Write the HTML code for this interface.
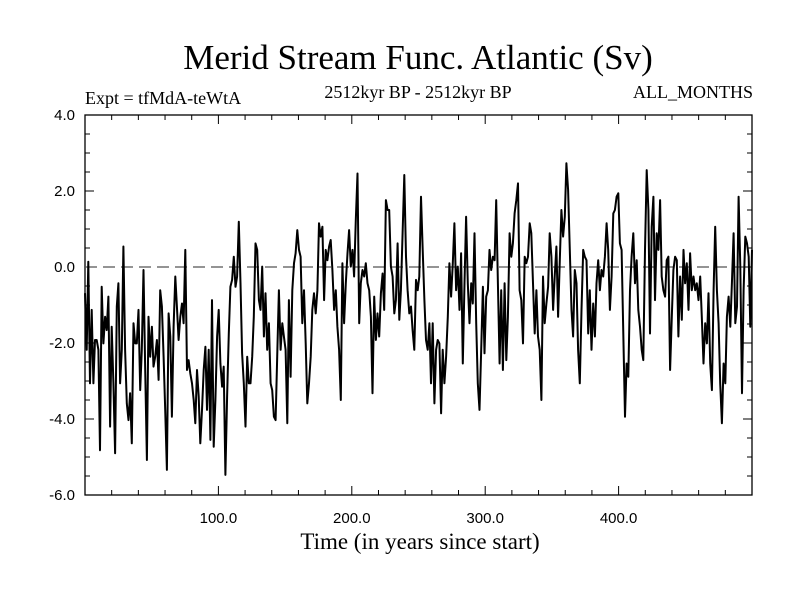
<!DOCTYPE html>
<html><head><meta charset="utf-8"><style>
body{margin:0;background:#fff;}
svg{display:block;}
.serif{font-family:"Liberation Serif",serif;}
.sans{font-family:"Liberation Sans",sans-serif;}
</style></head>
<body>
<svg id="chart" width="800" height="600" viewBox="0 0 800 600">
<rect width="800" height="600" fill="#fff"/>
<text class="serif" x="418" y="69" font-size="35" text-anchor="middle">Merid Stream Func. Atlantic (Sv)</text>
<text class="serif" x="85" y="104" font-size="18">Expt = tfMdA-teWtA</text>
<text class="serif" x="418" y="98" font-size="18" text-anchor="middle">2512kyr BP - 2512kyr BP</text>
<text class="serif" x="753" y="98" font-size="18" text-anchor="end">ALL_MONTHS</text>
<text class="serif" x="420" y="549" font-size="23" text-anchor="middle">Time (in years since start)</text>
<g id="axes"></g>
<g id="plot"></g>
</svg>
<script>
const xTicks=[100,200,300,400];
const xTickLabels=["100.0","200.0","300.0","400.0"];
const yTicks=[4,2,0,-2,-4,-6];
const yTickLabels=["4.0","2.0","0.0","-2.0","-4.0","-6.0"];
const seriesValues=[
-0.69,-2.18,0.14,-3.06,-1.13,-3.06,-1.92,-1.92,-2.18,-4.82,-0.52,-2.01,-1.31,-1.66,-0.78,-4.2,-1.57,-3.06,-4.9,-1.04,-0.43,-3.06,-2.18,0.54,-2.18,-3.59,-4.03,-3.32,-4.64,-1.48,-2.01,-2.01,-1.13,-3.24,-2.18,-0.08,-2.71,-5.08,-1.31,-2.36,-1.57,-2.62,-2.36,-1.92,-2.97,-0.61,-1.04,-2.36,-3.76,-5.34,-1.22,-1.83,-3.94,-1.57,-0.25,-1.04,-1.92,-1.31,-0.96,-1.48,0.45,-2.71,-2.45,-2.8,-3.06,-3.5,-4.11,-2.71,-3.41,-4.64,-3.76,-2.71,-2.1,-3.76,-2.18,-4.55,-0.87,-4.73,-3.5,-1.83,-1.13,-2.54,-3.15,-2.62,-5.47,-3.41,-1.75,-0.52,-0.34,0.27,-0.52,-0.25,1.19,-0.43,-2.27,-3.06,-4.2,-2.36,-3.06,
-3.06,-2.36,-1.31,0.62,0.45,-0.87,-1.13,0.01,-1.83,-0.69,-2.18,-1.48,-3.06,-3.24,-3.94,-4.03,-2.36,-0.61,-2.18,-1.48,-1.83,-2.18,-4.11,-0.87,-2.89,-0.61,0.1,0.36,0.97,0.45,0.27,-1.48,-0.61,-2.01,-3.59,-3.06,-2.36,-1.13,-0.69,-1.22,-0.61,1.15,0.8,1.06,-0.87,0.45,0.18,0.54,0.71,-0.08,-1.13,-0.61,-1.57,-2.18,-3.5,0.1,-1.48,-0.43,0.36,0.97,0.01,0.45,-0.25,1.24,2.46,-1.48,-0.43,-0.08,-0.25,0.1,-0.43,-0.61,-1.31,-3.32,-0.78,-1.92,-1.22,-1.83,-0.69,-0.17,-1.13,1.76,1.5,1.5,0.01,-0.25,-1.22,-0.87,0.62,-1.39,-0.61,0.89,2.42,0.27,-0.61,-1.22,-1.04,-1.66,-2.18,-0.34,-0.61,-0.25,1.85,0.45,
-0.87,-1.92,-2.18,-1.48,-3.06,-1.48,-3.59,-2.18,-1.92,-2.01,-3.85,-2.18,-3.06,-2.36,-1.31,0.1,-0.78,0.1,1.15,-0.61,0.01,-1.13,0.36,-2.54,-0.43,1.32,-0.43,-1.48,-0.43,-0.96,0.89,-1.48,-3.06,-3.76,-2.18,-0.52,-2.27,-0.78,-0.61,0.45,-0.08,0.27,0.18,1.76,-0.43,-2.54,-0.61,-2.71,-0.43,-2.45,-1.31,0.89,0.27,0.62,1.41,1.76,2.2,-0.61,-0.87,-2.01,0.27,0.1,0.27,1.15,0.89,-0.43,-1.75,-0.61,-1.83,-2.18,-3.5,-0.25,-1.48,-0.96,-0.52,0.89,0.27,-1.13,-0.25,0.54,-1.31,0.18,1.5,0.8,1.32,2.73,2.03,0.45,-1.13,-1.83,-0.08,-0.43,-2.18,-3.06,-1.13,0.45,0.27,0.18,-1.75,-0.61,-2.18,-0.96,
-1.83,-0.43,0.18,-0.61,-0.08,-0.25,0.27,1.15,0.45,-1.13,-0.25,1.41,1.5,1.85,1.94,0.62,0.45,-1.75,-3.94,-2.54,-2.89,-0.61,0.27,0.89,-0.43,0.18,-1.13,-1.57,-2.18,-2.45,0.45,2.55,1.5,-1.75,1.06,1.85,-0.87,0.89,0.45,1.76,-0.25,-0.61,-0.78,0.18,0.27,-2.71,-1.31,-0.08,0.27,0.18,-1.83,-0.25,-1.39,0.45,-0.43,0.1,-1.13,0.36,-0.61,-0.25,-0.61,-0.43,-0.87,-0.25,-1.31,-2.54,-1.48,-2.01,-0.69,-2.54,-3.24,-0.61,1.06,-0.61,-1.48,-3.06,-4.11,-2.54,-3.06,-1.31,-0.78,-1.57,-0.43,0.89,-1.48,-1.04,1.85,0.01,-3.32,-0.61,0.8,0.62,0.27,-1.57,0.45
];
const xMin=0,xMax=500,yMin=-6,yMax=4;
const L=85,R=752,T=115,B=495;
const NS="http://www.w3.org/2000/svg";
function sx(v){return L+(v-xMin)/(xMax-xMin)*(R-L);}
function sy(v){return B-(v-yMin)/(yMax-yMin)*(B-T);}
const axes=document.getElementById('axes');
const plot=document.getElementById('plot');
function mk(tag,attrs,parent){const e=document.createElementNS(NS,tag);for(const k in attrs)e.setAttribute(k,attrs[k]);parent.appendChild(e);return e;}
// zero line
const zl=mk('line',{x1:L,x2:R,y1:sy(0),y2:sy(0),stroke:'#555','stroke-width':1.3,'stroke-dasharray':'12,6'},plot);


// series
const n=seriesValues.length;
let d='';
seriesValues.forEach((v,i)=>{const yr=xMin+i*(xMax-xMin)/(n-1);d+=(i?'L':'M')+sx(yr).toFixed(1)+','+sy(v).toFixed(1);});
const line=mk('path',{d:d,fill:'none',stroke:'#000','stroke-width':2,'stroke-linejoin':'round'},plot);


// frame
const fr=mk('rect',{x:L,y:T,width:R-L,height:B-T,fill:'none',stroke:'#000','stroke-width':1.3},axes);


// minor x ticks
for(let t=20;t<500;t+=20){
  const big=(t%100===0);const len=big?9:5;
  mk('line',{x1:sx(t),x2:sx(t),y1:B,y2:B-len,stroke:'#000','stroke-width':1},axes);
  mk('line',{x1:sx(t),x2:sx(t),y1:T,y2:T+len,stroke:'#000','stroke-width':1},axes);
}
for(let v=-5.5;v<4;v+=0.5){
  const big=(Math.abs(v%2)<1e-9);const len=big?9:5;
  mk('line',{x1:L,x2:L+len,y1:sy(v),y2:sy(v),stroke:'#000','stroke-width':1},axes);
  mk('line',{x1:R,x2:R-len,y1:sy(v),y2:sy(v),stroke:'#000','stroke-width':1},axes);
}
xTicks.forEach((t,i)=>{
  const tx=mk('text',{x:sx(t),y:B+28,'font-size':15,'text-anchor':'middle','class':'sans'},axes);
  tx.textContent=xTickLabels[i];
  
  
});
yTicks.forEach((t,i)=>{
  const tx=mk('text',{x:L-10,y:sy(t)+5,'font-size':15,'text-anchor':'end','class':'sans'},axes);
  tx.textContent=yTickLabels[i];
  
  
});
</script>
</body></html>
